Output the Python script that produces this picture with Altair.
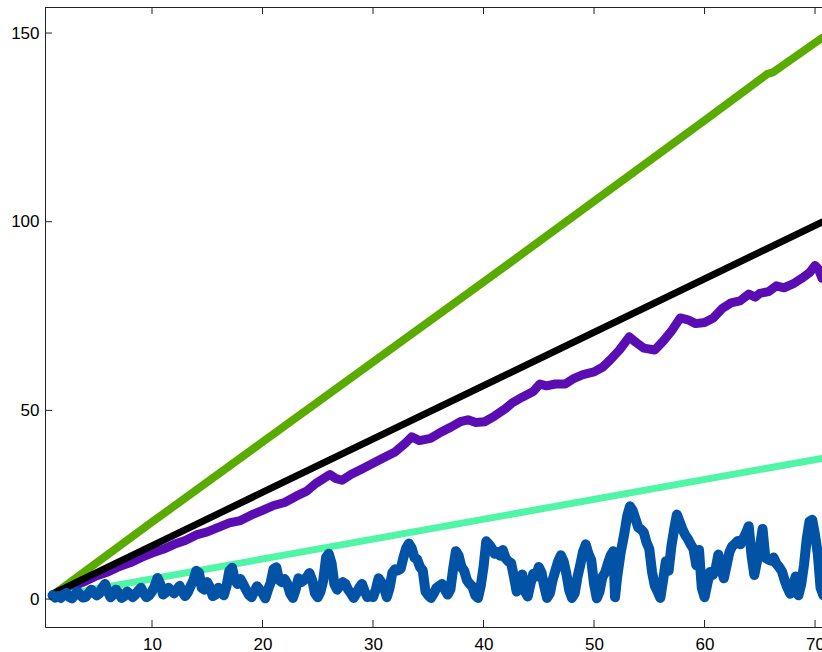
import altair as alt
import pandas as pd

x_ticks = [10, 20, 30, 40, 50, 60, 70]
y_ticks = [0, 50, 100, 150]

green_x = [1, 10, 20, 30, 40, 50, 60, 65.7, 66.2, 70.63]
green_y = [1, 20.4, 41.6, 62.8, 84, 105.4, 126.8, 139.2, 139.6, 148.7]

black_x = [1, 70.63]
black_y = [1.4, 99.9]

cyan_x = [1, 70.63]
cyan_y = [0.6, 37.3]

purple_x = [1, 2, 3, 4, 5, 6, 7, 8, 9, 10, 11, 12, 13, 14, 15, 16, 17, 18, 19, 20, 21, 22,
            23, 24, 24.8, 25.3, 26.1, 26.6, 27.2, 28, 29, 30, 31, 32, 33, 33.5, 34.2, 35.2,
            36, 37, 37.9, 38.6, 39.3, 40.1, 41, 42, 42.6, 43.5, 44.5, 45.1, 45.7, 46.5, 47.4,
            48.2, 49, 50, 50.8, 51.5, 52.3, 53.2, 53.8, 54.5, 55.5, 56.3, 57, 57.8, 58.5,
            59.2, 60, 60.8, 61.6, 62.4, 63.2, 64, 64.6, 65, 65.8, 66.5, 67.2, 68, 68.8, 69.5,
            70, 70.3, 70.63]
purple_y = [1, 2.2, 3.6, 4.8, 6.2, 7.2, 8.6, 9.6, 11, 12.2, 13.2, 14.5, 15.5, 17, 17.8, 19,
            20.2, 20.8, 22.3, 23.5, 24.8, 25.6, 27.2, 28.6, 30.6, 31.5, 33, 32, 31.5, 33,
            34.5, 36, 37.5, 39, 41.5, 43, 42, 42.6, 44, 45.5, 47, 47.5, 46.8, 47, 48.5, 50.5,
            52, 53.5, 55, 57, 56.5, 57, 57, 58.5, 59.5, 60.2, 61.5, 63.5, 66, 69.5, 68, 66.5,
            66, 68.5, 71, 74.5, 74, 73, 73.3, 74.5, 77, 78.5, 79, 80.8, 80, 81, 81.5, 83,
            82.5, 83.5, 85, 86.5, 88.4, 87.5, 85]

blue_x = [1.00, 1.25, 1.50, 1.75, 2.00, 2.25, 2.50, 2.75, 3.00, 3.25, 3.50, 3.75, 4.00,
          4.25, 4.50, 4.75, 5.00, 5.25, 5.50, 5.75, 6.00, 6.25, 6.50, 6.75, 7.00, 7.25,
          7.50, 7.75, 8.00, 8.25, 8.50, 8.75, 9.00, 9.25, 9.50, 9.75, 10.00, 10.25, 10.50,
          10.75, 11.00, 11.25, 11.50, 11.75, 12.00, 12.25, 12.50, 12.75, 13.00, 13.25,
          13.50, 13.75, 14.00, 14.25, 14.50, 14.75, 15.00, 15.25, 15.50, 15.75, 16.00,
          16.25, 16.50, 16.75, 17.00, 17.25, 17.50, 17.75, 18.00, 18.25, 18.50, 18.75,
          19.00, 19.25, 19.50, 19.75, 20.00, 20.25, 20.50, 20.75, 21.00, 21.25, 21.50,
          21.75, 22.00, 22.25, 22.50, 22.75, 23.00, 23.25, 23.50, 23.75, 24.00, 24.25,
          24.50, 24.75, 25.00, 25.25, 25.50, 25.75, 26.00, 26.25, 26.50, 26.75, 27.00,
          27.25, 27.50, 27.75, 28.00, 28.25, 28.50, 28.75, 29.00, 29.25, 29.50, 29.75,
          30.00, 30.25, 30.50, 30.75, 31.00, 31.25, 31.50, 31.75, 32.00, 32.25, 32.50,
          32.75, 33.00, 33.25, 33.50, 33.75, 34.00, 34.25, 34.50, 34.75, 35.00, 35.25,
          35.50, 35.75, 36.00, 36.25, 36.50, 36.75, 37.00, 37.25, 37.50, 37.75, 38.00,
          38.25, 38.50, 38.75, 39.00, 39.25, 39.50, 39.75, 40.00, 40.25, 40.50, 40.75,
          41.00, 41.25, 41.50, 41.75, 42.00, 42.25, 42.50, 42.75, 43.00, 43.25, 43.50,
          43.75, 44.00, 44.25, 44.50, 44.75, 45.00, 45.25, 45.50, 45.75, 46.00, 46.25,
          46.50, 46.75, 47.00, 47.25, 47.50, 47.75, 48.00, 48.25, 48.50, 48.75, 49.00,
          49.25, 49.50, 49.75, 50.00, 50.25, 50.50, 50.75, 51.00, 51.25, 51.50, 51.75,
          51.90, 52.10, 52.40, 52.75, 53.00, 53.25, 53.50, 53.75, 54.00, 54.25, 54.50,
          54.75, 55.00, 55.25, 55.50, 55.75, 56.00, 56.25, 56.50, 56.75, 57.00, 57.25,
          57.50, 57.75, 58.00, 58.25, 58.50, 58.75, 59.00, 59.25, 59.50, 59.75, 60.00,
          60.25, 60.50, 60.75, 61.00, 61.25, 61.50, 61.75, 62.00, 62.25, 62.50, 62.75,
          63.00, 63.25, 63.50, 63.75, 64.00, 64.25, 64.50, 64.75, 65.00, 65.25, 65.50,
          65.75, 66.00, 66.25, 66.50, 66.75, 67.00, 67.25, 67.50, 67.75, 68.00, 68.25,
          68.50, 68.75, 69.00, 69.25, 69.50, 69.75, 70.00, 70.25, 70.50, 70.75]
blue_y = [1.0, 0.4, 0.8, 0.3, 1.2, 1.6, 0.6, 0.2, 1.0, 2.0, 1.2, 0.4, 0.6,
          1.5, 2.5, 1.8, 1.0, 1.5, 3.0, 4.0, 2.0, 0.5, 1.2, 2.5, 1.5, 0.3,
          0.8, 2.0, 1.4, 0.5, 1.2, 2.2, 3.0, 1.5, 0.5, 1.0, 2.0, 3.5, 5.6,
          4.0, 1.2, 1.8, 3.0, 2.2, 1.5, 2.5, 3.5, 2.0, 0.8, 1.8,
          3.5, 5.0, 7.5, 7.0, 3.0, 2.5, 4.5, 3.0, 0.8, 1.2, 3.0,
          2.5, 1.0, 3.5, 7.5, 8.3, 5.0, 4.0, 5.3, 4.0, 2.5, 1.2,
          0.5, 2.0, 3.4, 2.5, 1.5, 0.2, 2.5, 4.5, 8.0, 8.4, 5.0,
          4.5, 5.3, 4.0, 1.5, 0.3, 2.5, 5.5, 4.5, 5.0, 5.8, 6.9,
          5.0, 1.5, 0.5, 2.0, 5.0, 11.0, 12.0, 9.5, 4.0, 2.5, 3.5,
          4.5, 4.0, 2.5, 1.5, 0.3, 1.5, 3.0, 4.0, 2.0, 0.5, 0.8,
          0.5, 2.5, 5.5, 4.5, 3.0, 0.5, 3.0, 7.0, 7.9, 7.6, 8.0,
          11.0, 13.5, 14.7, 13.5, 11.0, 10.5, 8.5, 7.6, 2.0, 1.0, 0.3,
          1.5, 3.0, 3.5, 4.0, 2.5, 1.2, 2.5, 8.0, 12.7, 11.5, 8.5,
          7.5, 5.0, 4.0, 3.3, 1.0, 0.3, 3.5, 8.5, 15.3, 14.5, 13.5,
          12.0, 12.5, 11.5, 13.0, 10.8, 10.0, 9.5, 5.9, 2.0, 3.5, 6.5,
          2.0, 0.7, 4.0, 6.7, 6.0, 8.5, 7.0, 3.3, 0.3, 1.5, 5.0,
          7.5, 10.0, 11.6, 10.0, 6.7, 2.4, 0.3, 1.5, 5.8, 9.0, 12.5,
          14.5, 12.0, 10.3, 4.0, 0.2, 2.0, 5.8, 7.0, 9.4, 11.5, 12.7,
          0.5, 6.0, 12.1, 17.5, 22.0, 24.6, 23.5, 21.2, 19.0, 18.5, 17.7,
          15.0, 13.3, 7.2, 3.5, 2.0, 0.3, 5.0, 10.0, 7.5, 14.0, 18.5,
          22.4, 20.5, 18.5, 17.0, 15.9, 14.5, 13.3, 9.0, 13.0, 3.0, 0.5,
          4.0, 7.2, 6.4, 8.0, 11.8, 8.0, 5.5, 9.0, 12.4, 14.0, 14.6,
          15.4, 14.5, 16.0, 17.5, 19.3, 11.6, 6.4, 10.0, 13.7, 18.6, 11.0,
          10.5, 10.2, 11.0, 9.4, 8.5, 7.4, 5.0, 3.0, 1.4, 3.5, 6.0,
          1.0, 4.0, 9.0, 16.0, 20.6, 21.0, 17.0, 12.0, 3.0, 1.0]

W, H = 777, 620
FONT = "Liberation Sans"
xs = alt.Scale(domain=[0.317, 70.63], nice=False, zero=False)
ys = alt.Scale(domain=[-7.4, 156.9], nice=False, zero=False)

xax = alt.Axis(values=x_ticks, ticks=False, tickSize=0, grid=False, domainColor="#222",
               domainWidth=1, labelFont=FONT, labelFontSize=17, labelColor="#000",
               labelPadding=9, title=None, labelFlush=False, labelOverlap=False)
yax = alt.Axis(values=y_ticks, ticks=False, tickSize=0, grid=False, domainColor="#222",
               domainWidth=1, labelFont=FONT, labelFontSize=17, labelColor="#000",
               labelPadding=6, title=None, labelFlush=False, labelOverlap=False)


def line(xv, yv, color, sw):
    df = pd.DataFrame({"x": xv, "y": yv})
    return alt.Chart(df).mark_line(color=color, strokeWidth=sw, strokeCap="round",
                                   strokeJoin="round", clip=True).encode(
        x=alt.X("x:Q", scale=xs, axis=xax),
        y=alt.Y("y:Q", scale=ys, axis=yax),
    )


green = line(green_x, green_y, "#5aab00", 8)
purple = line(purple_x, purple_y, "#5a0db2", 9)
black = line(black_x, black_y, "#000000", 7)
cyan = line(cyan_x, cyan_y, "#50f5a6", 7)
blue = line(blue_x, blue_y, "#0253a5", 10)

xt = pd.DataFrame({"t": x_ticks})
yt = pd.DataFrame({"t": y_ticks})

bottom_ticks = alt.Chart(xt).mark_rule(color="#222", strokeWidth=1).encode(
    x=alt.X("t:Q", scale=xs, axis=xax), y=alt.value(H), y2=alt.value(H - 7))
top_ticks = alt.Chart(xt).mark_rule(color="#222", strokeWidth=1).encode(
    x=alt.X("t:Q", scale=xs, axis=xax), y=alt.value(0), y2=alt.value(7))
left_ticks = alt.Chart(yt).mark_rule(color="#222", strokeWidth=1).encode(
    y=alt.Y("t:Q", scale=ys, axis=yax), x=alt.value(0), x2=alt.value(7))
top_border = alt.Chart(xt).mark_rule(color="#222", strokeWidth=1).encode(
    x=alt.value(0), x2=alt.value(W), y=alt.value(0.5))

chart = alt.layer(
    green, purple, black, cyan, blue, bottom_ticks, top_ticks, left_ticks, top_border
).properties(
    width=W, height=H, autosize="none",
    padding={"left": 45, "top": 7, "right": 0, "bottom": 25},
    background="white",
).configure_view(stroke=None)

chart.save("out.html", embed_options={"renderer": "svg", "actions": False})
